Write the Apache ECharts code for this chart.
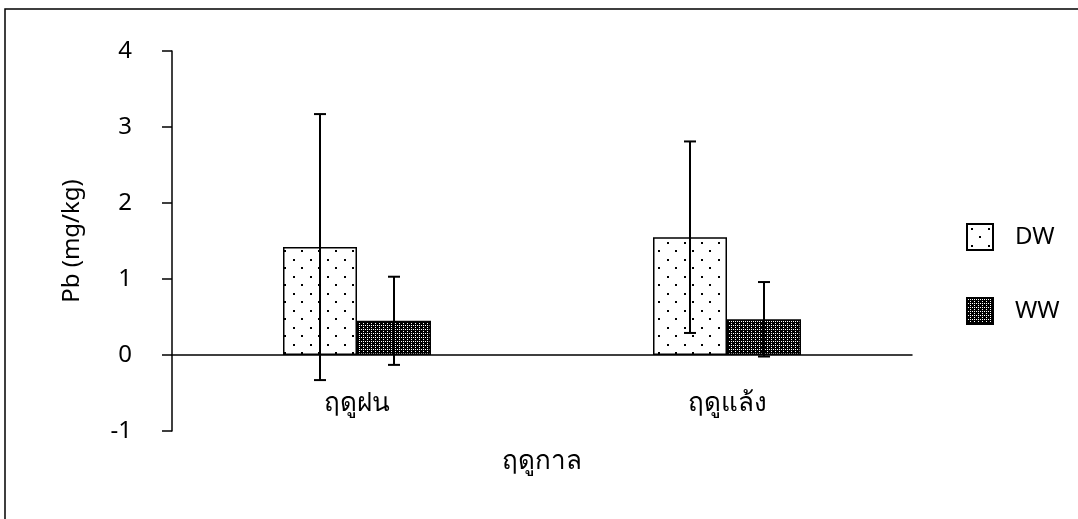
<!DOCTYPE html>
<html>
<head>
<meta charset="utf-8">
<script src="https://cdn.jsdelivr.net/npm/echarts@6/dist/echarts.min.js"></script>
<style>
html,body{margin:0;padding:0;background:#fff;}
#chart{width:1078px;height:519px;}
</style>
</head>
<body>
<div id="chart"></div>
<script>
var categories = ['ฤดูฝน', 'ฤดูแล้ง'];
var dwMean = [1.42, 1.55];
var dwSd = [1.75, 1.26];
var wwMean = [0.45, 0.47];
var wwSd = [0.58, 0.49];
var yTicks = [-1, 0, 1, 2, 3, 4];

var FONT = '"Noto Sans", "DejaVu Sans", sans-serif';

// dotted fill for DW
function dotPattern() {
    var c = document.createElement('canvas');
    c.width = 17; c.height = 17;
    var ctx = c.getContext('2d');
    ctx.fillStyle = '#fff';
    ctx.fillRect(0, 0, 17, 17);
    ctx.fillStyle = '#000';
    ctx.fillRect(4, 4, 2, 2);
    ctx.fillRect(12, 12, 2, 2);
    return c;
}
// dense checker fill for WW
function checkPattern() {
    var c = document.createElement('canvas');
    c.width = 4; c.height = 4;
    var ctx = c.getContext('2d');
    ctx.fillStyle = '#000';
    ctx.fillRect(0, 0, 4, 4);
    ctx.fillStyle = '#fff';
    ctx.fillRect(1, 1, 1, 1);
    ctx.fillRect(3, 3, 1, 1);
    ctx.fillRect(3, 1, 1, 1);
    return c;
}

function errData(mean, sd) {
    return mean.map(function (m, i) { return [i, m - sd[i], m + sd[i]]; });
}

function errSeries(name, mean, sd, shift) {
    return {
        type: 'custom',
        name: name + '_err',
        data: errData(mean, sd),
        z: 10,
        silent: true,
        renderItem: function (params, api) {
            var band = api.size([1, 0])[0];
            var lo = api.coord([api.value(0), api.value(1)]);
            var hi = api.coord([api.value(0), api.value(2)]);
            var x = lo[0] + band * shift;
            var cap = 6;
            var st = { stroke: '#000', lineWidth: 2 };
            return {
                type: 'group',
                children: [
                    { type: 'line', shape: { x1: x, y1: lo[1], x2: x, y2: hi[1] }, style: st },
                    { type: 'line', shape: { x1: x - cap, y1: hi[1], x2: x + cap, y2: hi[1] }, style: st },
                    { type: 'line', shape: { x1: x - cap, y1: lo[1], x2: x + cap, y2: lo[1] }, style: st }
                ]
            };
        }
    };
}

var chart = echarts.init(document.getElementById('chart'));
var option = {
    animation: false,
    textStyle: { fontFamily: FONT, color: '#000' },
    grid: { left: 172, top: 51, width: 740, height: 380, outerBoundsMode: 'none' },
    graphic: [{
        type: 'rect',
        shape: { x: 5, y: 9, width: 1090, height: 530 },
        style: { fill: 'none', stroke: '#000', lineWidth: 1.5 },
        silent: true
    }],
    legend: {
        orient: 'vertical',
        left: 961,
        top: 218,
        itemWidth: 26,
        itemHeight: 26,
        itemGap: 46,
        icon: 'rect',
        data: ['DW', 'WW'],
        textStyle: { fontSize: 24, color: '#000', fontFamily: FONT, padding: [0, 0, 0, 17] }
    },
    xAxis: {
        type: 'category',
        data: categories,
        name: 'ฤดูกาล',
        nameLocation: 'middle',
        nameGap: 94,
        nameTextStyle: { fontSize: 26, color: '#000' },
        offset: -76,
        axisLine: { onZero: false, lineStyle: { color: '#000', width: 1.5 } },
        axisTick: { show: false },
        axisLabel: { fontSize: 26, color: '#000', margin: 36 }
    },
    yAxis: {
        type: 'value',
        min: yTicks[0],
        max: yTicks[yTicks.length - 1],
        interval: 1,
        name: 'Pb (mg/kg)',
        nameLocation: 'middle',
        nameGap: 88,
        nameTextStyle: { fontSize: 24, color: '#000' },
        splitLine: { show: false },
        axisLine: { show: true, lineStyle: { color: '#000', width: 1.5 } },
        axisTick: { show: true, length: 10, lineStyle: { color: '#000', width: 1.5 } },
        axisLabel: { fontSize: 24, color: '#000', margin: 40, padding: [0, 0, 8, 0] }
    },
    series: [
        {
            name: 'DW',
            type: 'bar',
            data: dwMean,
            barWidth: '20%',
            barGap: '0%',
            itemStyle: {
                color: { image: dotPattern(), repeat: 'repeat' },
                borderColor: '#000',
                borderWidth: 1.5
            }
        },
        {
            name: 'WW',
            type: 'bar',
            data: wwMean,
            barWidth: '20%',
            itemStyle: {
                color: { image: checkPattern(), repeat: 'repeat' },
                borderColor: '#000',
                borderWidth: 1.5
            }
        },
        errSeries('DW', dwMean, dwSd, -0.1),
        errSeries('WW', wwMean, wwSd, 0.1)
    ]
};
chart.setOption(option);
</script>
</body>
</html>
